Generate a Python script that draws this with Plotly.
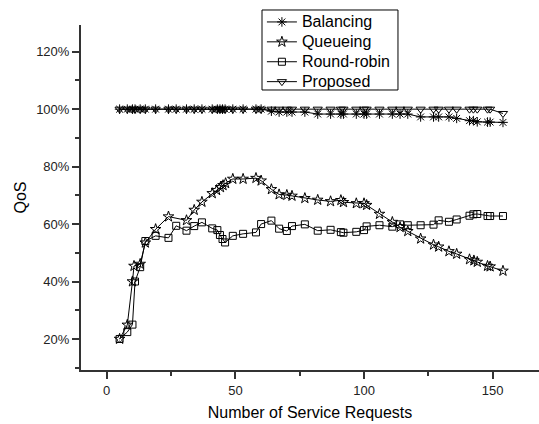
import plotly.graph_objects as go

# Number of service requests sampled for each scheduler
x_common = [5, 8, 10, 11, 13, 15, 19, 24, 27, 31, 34, 37, 41, 43, 44, 45, 46, 49, 53, 58,
            60, 64, 67, 70, 72, 77, 82, 87, 91, 92, 97, 100, 101, 106, 111, 114, 117, 122,
            127, 129, 133, 136, 141, 142.5, 144, 148, 149, 154]

# QoS (percent) per scheduler
balancing = [100, 100, 100, 100, 100, 100, 100, 100, 100, 100, 100, 100, 100, 100, 100, 100,
             100, 100, 100, 100, 100, 99.3, 99, 99, 99, 99, 98.3, 98.3, 98.3, 98.3, 98.3, 98.3,
             98.3, 98.3, 98.3, 98.3, 98.3, 97.3, 97.3, 97.3, 97.3, 96.8, 96, 96, 95.6, 95.5,
             95.5, 95.4]

proposed = [100] * 47 + [98.5]

x_queue = [5, 8, 10, 10.6, 13, 15, 19, 24, 31, 34, 37, 41, 42.7, 44.2, 45.2, 46.2, 49, 53, 58,
           60, 64, 67, 70, 72, 77, 82, 87, 91, 92, 97, 100, 101, 106, 111, 114, 117, 122, 127,
           129, 133, 136, 141, 142.7, 144, 148, 149, 154]
queueing = [20, 24.9, 40, 45.4, 46.1, 53.5, 58.2, 62.6, 61.3, 64.9, 67.7, 70.7, 71.8, 72.8, 73.5,
            74.2, 75.7, 75.7, 76, 75.1, 72.1, 70.3, 70.1, 69.8, 69, 68.4, 67.9, 68.3, 67.6, 67.2,
            67.2, 66.6, 63.5, 60.7, 58.9, 57.5, 54.9, 52.8, 52.1, 50.5, 49.6, 47.7, 47.3, 46.8,
            45.4, 45.2, 43.7]

x_rr = [5, 8, 10, 11, 13, 15, 19, 24, 27, 31, 34, 37, 41, 43, 44, 45, 46, 49, 53, 58, 60, 64,
        67, 70, 72, 77, 82, 87, 91, 92, 97, 100, 101, 106, 111, 114, 117, 122, 127, 129, 133,
        136, 141, 142.5, 144, 148, 149, 154]
round_robin = [20, 22.4, 25, 40, 45, 54.1, 55.9, 55.2, 59.4, 57.7, 59.3, 60.6, 58.5, 57.9, 56.2,
               54.8, 53.6, 55.9, 56.6, 57.1, 60, 61.2, 58.4, 57.6, 59.3, 59.9, 57.7, 58, 57.2,
               57, 57.3, 57.9, 59.2, 59.6, 59.1, 59.9, 59.6, 59.6, 59.8, 61.3, 60.8, 61.6, 62.9,
               63.4, 63.5, 62.8, 62.8, 62.8]

FONT = "Liberation Sans, Arial, sans-serif"


def frac(vals):
    return [v / 100 for v in vals]


series = [
    ("Balancing", x_common, balancing, "asterisk-open", 8),
    ("Queueing", x_queue, queueing, "star-open", 8),
    ("Round-robin", x_rr, round_robin, "square-open", 7),
    ("Proposed", x_common, proposed, "triangle-down-open", 8),
]

fig = go.Figure()
for name, xs, ys, sym, size in series:
    fig.add_trace(go.Scatter(
        x=xs, y=frac(ys), mode="lines+markers",
        # legend rows are spaced by the legend font size; the label itself is drawn larger
        name=f'<span style="font-size:16px">{name}</span>',
        line=dict(color="black", width=1),
        marker=dict(symbol=sym, size=size, color="black",
                    line=dict(color="black", width=1)),
    ))

# tight frame around the legend entries
fig.add_shape(type="rect", xref="paper", yref="paper",
              x0=0.3952, x1=0.6921, y0=0.8116, y1=1.0435,
              line=dict(color="black", width=1), fillcolor="white", layer="above")

fig.update_layout(
    width=539, height=424,
    margin=dict(l=81, r=0, t=25, b=54),
    paper_bgcolor="white", plot_bgcolor="white",
    font=dict(family=FONT, color="black"),
    showlegend=True,
    legend=dict(
        x=0.395, y=1.0522, xanchor="left", yanchor="top",
        bgcolor="rgba(0,0,0,0)", borderwidth=0,
        font=dict(size=13, family=FONT, color="black"),
        tracegroupgap=0,
    ),
)

fig.update_xaxes(
    range=[-10, 168], dtick=50, tick0=0,
    showgrid=False, zeroline=False,
    showline=True, linecolor="#333", linewidth=2,
    ticks="outside", ticklen=7, tickcolor="#333", tickwidth=1.5,
    minor=dict(dtick=25, ticks="outside", ticklen=4, tickcolor="#333", tickwidth=1.5),
    tickfont=dict(size=13, color="#222"),
    title=dict(text="Number of Service Requests", font=dict(size=16), standoff=10),
)

fig.update_yaxes(
    range=[0.092, 1.293], dtick=0.2, tick0=0, tickformat=".0%",
    showgrid=False, zeroline=False,
    showline=True, linecolor="#333", linewidth=2,
    ticks="outside", ticklen=7, tickcolor="#333", tickwidth=1.5,
    minor=dict(dtick=0.1, ticks="outside", ticklen=4, tickcolor="#333", tickwidth=1.5),
    tickfont=dict(size=13, color="#222"),
    title=dict(text="QoS", font=dict(size=16), standoff=6),
)

fig.write_html("out.html")
